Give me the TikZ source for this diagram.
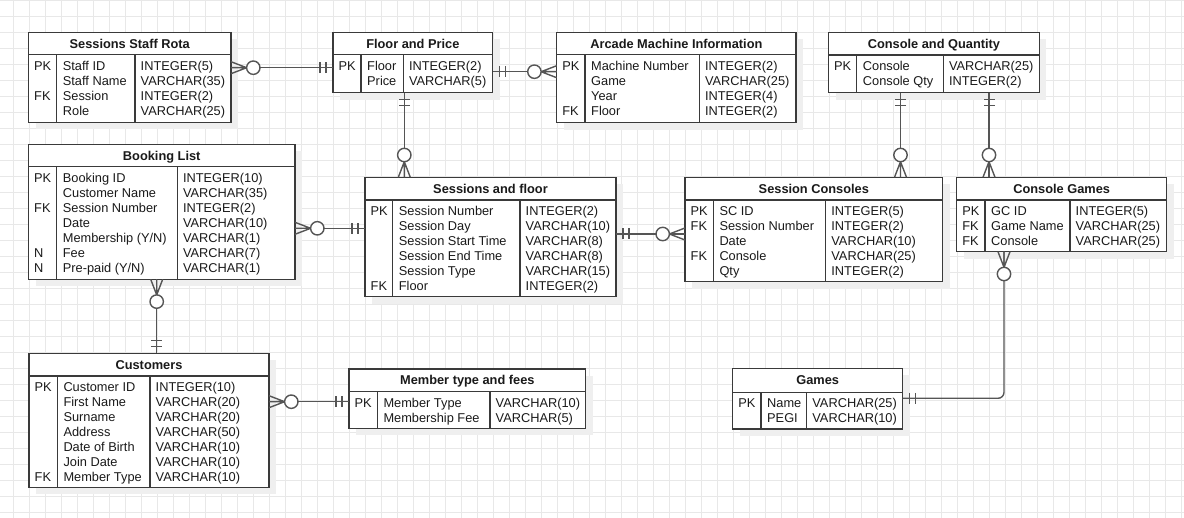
\documentclass[tikz,border=0pt]{standalone}
\usepackage{fontspec}
\setmainfont{Liberation Sans}
\usetikzlibrary{calc}
\definecolor{bordercol}{HTML}{3A3A3A}
\definecolor{conncol}{HTML}{555555}
\definecolor{textcol}{HTML}{1A1A1A}
\definecolor{gridcol}{HTML}{E8E8E8}
\definecolor{shadowcol}{HTML}{EFEFEF}
\tikzset{
  tblframe/.style={draw=bordercol, line width=1.3pt, fill=white, inner sep=0pt, outer sep=0pt},
  tblline/.style={draw=bordercol, line width=1.3pt},
  conn/.style={draw=conncol, line width=1.4pt},
  cell/.style={inner sep=0pt, anchor=base west, font=\fontsize{12.8}{15}\selectfont, text=textcol},
  ttl/.style={inner sep=0pt, anchor=base, font=\fontsize{12.8}{15}\selectfont\bfseries, text=textcol},
  gridline/.style={draw=gridcol, line width=0.8pt},
}
% #1 name, #2 x1, #3 x2, #4 top, #5 header bottom, #6 bottom, #7 div1, #8 div2, #9 title
\newcommand\ertable[9]{%
  \fill[shadowcol] (#2+7,#4+7) rectangle (#3+7,#6+7);
  \node[tblframe, minimum width={(#3)-(#2)}, minimum height={(#6)-(#4)}] (#1) at ({((#2)+(#3))/2},{((#4)+(#6))/2}) {};
  \draw[tblline] (#2,#5) -- (#3,#5) (#7,#5) -- (#7,#6) (#8,#5) -- (#8,#6);
  \node[ttl] (#1-title) at ({((#2)+(#3))/2},{((#4)+(#5))/2+4.6}) {#9};
}
% #1 name, #2 x1, #3 div1, #4 div2, #5 header bottom, #6 rows
\newcommand\errows[6]{%
  \foreach \k/\n/\t [count=\i] in {#6} {
    \node[cell] (#1-k\i) at (#2+5.5, #5+11+15*\i-15+4.6) {\k};
    \node[cell] (#1-n\i) at (#3+6, #5+11+15*\i-15+4.6) {\n};
    \node[cell] (#1-t\i) at (#4+5.5, #5+11+15*\i-15+4.6) {\t};
  }
}
% zero-or-many end: #1 coordinate on box edge, #2 outward angle
\newcommand\zeromany[2]{%
  \begin{scope}[shift={(#1)}, rotate=#2]
    \draw[conn] (0,-6) -- (15.6,0) -- (0,6) (0,0) -- (15.6,0);
    \draw[conn, fill=white] (22.3,0) circle[radius=6.7pt];
  \end{scope}}
% mandatory-one end
\newcommand\mandone[2]{%
  \begin{scope}[shift={(#1)}, rotate=#2]
    \draw[conn] (7,-5.5) -- (7,5.5) (13,-5.5) -- (13,5.5);
  \end{scope}}
\begin{document}
\begin{tikzpicture}[x=1pt, y=-1pt]
\useasboundingbox (0,0) rectangle (1184,518);
\fill[white] (0,0) rectangle (1184,518);
% grid
\foreach \gx in {0,...,73} { \draw[gridline] (13.5+16*\gx,0) -- (13.5+16*\gx,518); }
\foreach \gy in {0,...,32} { \draw[gridline] (0,0.5+16*\gy) -- (1184,0.5+16*\gy); }

% tables
\ertable{rota}{28.5}{231}{32.5}{54.5}{122.5}{56.7}{135}{Sessions Staff Rota}
\errows{rota}{28.5}{56.7}{135}{54.5}{PK/Staff ID/INTEGER(5), /Staff Name/VARCHAR(35), FK/Session/INTEGER(2), /Role/VARCHAR(25)}

\ertable{fp}{333}{492.7}{32.5}{54.5}{92.7}{361}{403.3}{Floor and Price}
\errows{fp}{333}{361}{403.3}{54.5}{PK/Floor/INTEGER(2), /Price/VARCHAR(5)}

\ertable{arcade}{556.7}{796}{32.5}{54.5}{122.7}{585}{699.3}{Arcade Machine Information}
\errows{arcade}{556.7}{585}{699.3}{54.5}{PK/Machine Number/INTEGER(2), /Game/VARCHAR(25), /Year/INTEGER(4), FK/Floor/INTEGER(2)}

\ertable{cq}{828.5}{1039.3}{32.5}{55}{92.7}{856.7}{943.3}{Console and Quantity}
\errows{cq}{828.5}{856.7}{943.3}{55}{PK/Console/VARCHAR(25), /Console Qty/INTEGER(2)}

\ertable{booking}{28.5}{295}{144.5}{166.7}{279.3}{56.7}{177.3}{Booking List}
\errows{booking}{28.5}{56.7}{177.3}{166.7}{PK/Booking ID/INTEGER(10), /Customer Name/VARCHAR(35), FK/Session Number/INTEGER(2), /Date/VARCHAR(10), /{Membership (Y/N)}/VARCHAR(1), N/Fee/VARCHAR(7), N/{Pre-paid (Y/N)}/VARCHAR(1)}

\ertable{sf}{365}{616}{177.3}{200}{296.7}{392.7}{520}{Sessions and floor}
\errows{sf}{365}{392.7}{520}{200}{PK/Session Number/INTEGER(2), /Session Day/VARCHAR(10), /Session Start Time/VARCHAR(8), /Session End Time/VARCHAR(8), /Session Type/VARCHAR(15), FK/Floor/INTEGER(2)}

\ertable{sc}{685}{942.7}{177.3}{200}{281.7}{713.3}{825.7}{Session Consoles}
\errows{sc}{685}{713.3}{825.7}{200}{PK/SC ID/INTEGER(5), FK/Session Number/INTEGER(2), /Date/VARCHAR(10), FK/Console/VARCHAR(25), /Qty/INTEGER(2)}

\ertable{cg}{956.7}{1166.7}{177.3}{200}{251.7}{985}{1070}{Console Games}
\errows{cg}{956.7}{985}{1070}{200}{PK/GC ID/INTEGER(5), FK/Game Name/VARCHAR(25), FK/Console/VARCHAR(25)}

\ertable{cust}{29}{269}{353.3}{376}{487.3}{57.3}{150}{Customers}
\errows{cust}{29}{57.3}{150}{376}{PK/Customer ID/INTEGER(10), /First Name/VARCHAR(20), /Surname/VARCHAR(20), /Address/VARCHAR(50), /Date of Birth/VARCHAR(10), /Join Date/VARCHAR(10), FK/Member Type/VARCHAR(10)}

\ertable{mtf}{349}{585.7}{369}{391.7}{428.3}{377.3}{490}{Member type and fees}
\errows{mtf}{349}{377.3}{490}{391.7}{PK/Member Type/VARCHAR(10), /Membership Fee/VARCHAR(5)}

\ertable{games}{732.7}{902.7}{368.3}{392.3}{429}{761}{806.7}{Games}
\errows{games}{732.7}{761}{806.7}{392.3}{PK/Name/VARCHAR(25), /PEGI/VARCHAR(10)}

% connector end points
\coordinate (a1) at (rota.east |- 0,67.7);   \coordinate (a2) at (fp.west |- 0,67.7);
\coordinate (b1) at (fp.east |- 0,71.7);     \coordinate (b2) at (arcade.west |- 0,71.7);
\coordinate (c1) at (fp.south -| 404.3,0);   \coordinate (c2) at (sf.north -| 404.3,0);
\coordinate (d1) at (cq.south -| 900.5,0);   \coordinate (d2) at (sc.north -| 900.5,0);
\coordinate (e1) at (cq.south -| 989,0);     \coordinate (e2) at (cg.north -| 989,0);
\coordinate (f1) at (booking.east |- 0,228.3); \coordinate (f2) at (sf.west |- 0,228.3);
\coordinate (g1) at (sf.east |- 0,234);      \coordinate (g2) at (sc.west |- 0,234);
\coordinate (h1) at (booking.south -| 156.7,0); \coordinate (h2) at (cust.north -| 156.7,0);
\coordinate (i1) at (cust.east |- 0,401.7);  \coordinate (i2) at (mtf.west |- 0,401.7);
\coordinate (j1) at (cg.south -| 1004,0);    \coordinate (j2) at (games.east |- 0,398.3);

% connectors
\draw[conn] (a1) -- (a2);
\draw[conn] (b1) -- (b2);
\draw[conn] (c1) -- (c2);
\draw[conn] (d1) -- (d2);
\draw[conn] (e1) -- (e2);
\draw[conn] (f1) -- (f2);
\draw[conn] (g1) -- (g2);
\draw[conn] (h1) -- (h2);
\draw[conn] (i1) -- (i2);
\draw[conn, rounded corners=6pt] (j1) |- (j2);

% ends
\zeromany{a1}{0}    \mandone{a2}{180}
\mandone{b1}{0}     \zeromany{b2}{180}
\mandone{c1}{270}   \zeromany{c2}{90}
\mandone{d1}{270}   \zeromany{d2}{90}
\mandone{e1}{270}   \zeromany{e2}{90}
\zeromany{f1}{0}    \mandone{f2}{180}
\mandone{g1}{0}     \zeromany{g2}{180}
\zeromany{h1}{270}  \mandone{h2}{90}
\zeromany{i1}{0}    \mandone{i2}{180}
\zeromany{j1}{270}  \mandone{j2}{0}
\end{tikzpicture}
\end{document}
